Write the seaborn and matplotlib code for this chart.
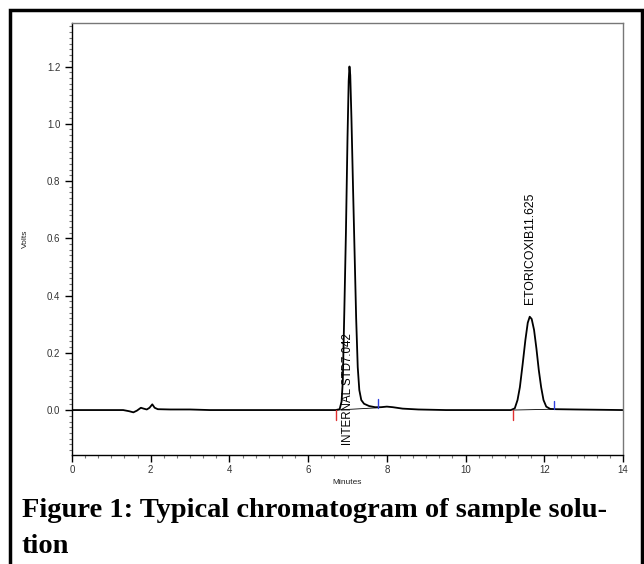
import seaborn as sns
import matplotlib.pyplot as plt
import pandas as pd
from matplotlib.ticker import MultipleLocator
from matplotlib.patches import Rectangle

# Trace (minutes, volts)
minutes = [0.0, 1.30, 1.45, 1.56, 1.65, 1.75, 1.82, 1.90, 1.97, 2.04, 2.10, 2.18,
           2.50, 3.00, 3.50, 6.50, 6.70, 6.80, 6.85, 6.88, 6.92, 6.96, 7.00, 7.03,
           7.05, 7.07, 7.10, 7.14, 7.18, 7.22, 7.26, 7.30, 7.35, 7.42, 7.55, 7.70,
           7.85, 8.00, 8.15, 8.40, 8.80, 9.50, 11.00, 11.15, 11.25, 11.32, 11.38,
           11.45, 11.52, 11.58, 11.63, 11.68, 11.74, 11.80, 11.86, 11.92, 11.98,
           12.05, 12.15, 12.30, 12.80, 14.0]
volts = [0.0, 0.0, -0.004, -0.008, -0.002, 0.008, 0.005, 0.002, 0.008, 0.020, 0.008,
         0.003, 0.002, 0.002, 0.0, 0.0, 0.0, 0.003, 0.03, 0.10, 0.35, 0.62, 0.95,
         1.15, 1.20, 1.17, 1.02, 0.78, 0.55, 0.32, 0.15, 0.07, 0.035, 0.022, 0.014,
         0.010, 0.010, 0.012, 0.010, 0.005, 0.002, 0.0, 0.0, 0.0, 0.006, 0.035,
         0.08, 0.16, 0.245, 0.305, 0.326, 0.318, 0.28, 0.215, 0.14, 0.08, 0.035,
         0.012, 0.004, 0.003, 0.002, 0.0]

# Peaks: name, label position, integration start/end
peak_names = ["INTERNAL STD7.042", "ETORICOXIB11.625"]
label_x = [7.01, 11.64]
label_y = [-0.122, 0.37]
start_marks = [6.72, 11.20]
end_marks = [7.78, 12.25]
end_levels = [0.008, 0.003]

df = pd.DataFrame({"Minutes": minutes, "Volts": volts})

sns.set_style("ticks")
plt.rcParams["font.family"] = ["Liberation Sans", "DejaVu Sans"]

fig = plt.figure(figsize=(6.44, 5.64), dpi=100)
ax = fig.add_axes([72 / 644, 109 / 564, 551 / 644, 432 / 564])

sns.lineplot(data=df, x="Minutes", y="Volts", color="black", linewidth=1.3, ax=ax)

# integration baselines and start/end marks
for s, e, lv in zip(start_marks, end_marks, end_levels):
    ax.plot([s, e], [0.0, lv], color="black", linewidth=0.6)
    ax.plot([s, s], [0.0, -0.033], color="#e03030", linewidth=1.0)
    ax.plot([e, e], [lv, lv + 0.03], color="#3040e0", linewidth=1.0)

for name, lx, ly, fs in zip(peak_names, label_x, label_y, [8.3, 8.8]):
    ax.text(lx, ly, name, rotation=90, ha="center", va="bottom", fontsize=fs,
            color="black")

ax.set_xlim(0, 14)
ax.set_ylim(-0.157, 1.352)
ax.xaxis.set_major_locator(MultipleLocator(2))
ax.xaxis.set_minor_locator(MultipleLocator(1 / 3))
ax.yaxis.set_major_locator(MultipleLocator(0.2))
ax.yaxis.set_minor_locator(MultipleLocator(0.02))
ax.set_yticks([0.0, 0.2, 0.4, 0.6, 0.8, 1.0, 1.2])
ax.tick_params(which="major", direction="out", length=5, width=1, labelsize=7,
               colors="black", labelcolor="#333333")
ax.tick_params(axis="x", which="major", pad=2)
ax.tick_params(which="minor", direction="out", length=2.5, width=0.8, color="#777777")
ax.set_xlabel("Minutes", fontsize=6, labelpad=3, color="#222222")
ax.set_ylabel("Volts", fontsize=6, labelpad=13, color="#222222")

for side in ["left", "bottom"]:
    ax.spines[side].set_color("black")
    ax.spines[side].set_linewidth(1.0)
for side in ["top", "right"]:
    ax.spines[side].set_visible(True)
    ax.spines[side].set_color("#777777")
    ax.spines[side].set_linewidth(1.0)

# outer frame
fig.patches.append(Rectangle((10 / 644, -0.05), 632 / 644, 1.05 - 10 / 564,
                             transform=fig.transFigure, fill=False,
                             edgecolor="black", linewidth=2.5))

cap = dict(fontsize=20.5, fontweight="bold", family=["Liberation Serif", "DejaVu Serif"],
           ha="left", va="baseline", color="black")
fig.text(22 / 644, 1 - 517 / 564, "Figure 1: Typical chromatogram of sample solu-", **cap)
fig.text(22 / 644, 1 - 553 / 564, "tion", **cap)

fig.savefig("out.png", dpi=100)
